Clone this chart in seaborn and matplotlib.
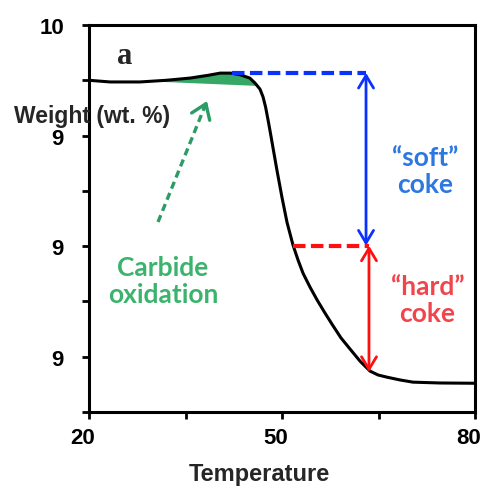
import matplotlib
matplotlib.use("Agg")
import matplotlib.pyplot as plt
import matplotlib.transforms as mtransforms
from matplotlib.patches import FancyArrowPatch
import seaborn as sns
import pandas as pd
import numpy as np

# TGA trace
temperature = [20.0, 23.3, 27.9, 32.0, 35.7, 38.5, 40.4, 42.0, 43.5, 45.0, 45.8, 46.58,
               47.05, 47.44, 47.82, 48.21, 48.6, 49.22, 50.0, 50.78, 51.71, 52.49, 53.27,
               54.35, 55.44, 56.68, 57.93, 59.17, 60.57, 62.13, 63.68, 64.92, 66.32, 68.34,
               70.36, 74.56, 80.0]
weight = [9.900, 9.897, 9.897, 9.900, 9.904, 9.909, 9.913, 9.913, 9.910, 9.904, 9.895, 9.884,
          9.870, 9.852, 9.829, 9.804, 9.778, 9.737, 9.688, 9.643, 9.602, 9.575, 9.551,
          9.526, 9.503, 9.479, 9.456, 9.434, 9.414, 9.392, 9.374, 9.367, 9.363, 9.358,
          9.354, 9.3525, 9.352]

x_ticks = [20, 35, 50, 65, 80]
x_tick_labels = ["20", "", "50", "", "80"]
y_ticks = [9.3, 9.4, 9.5, 9.6, 9.7, 9.8, 9.9, 10.0]
y_tick_labels = ["", "9", "", "9", "", "9", "", "10"]

# carbide oxidation hump (baseline end points)
carbide_start = (29.95, 9.8978)
carbide_end = (46.43, 9.8897)

# coke levels
soft_top = 9.9135
soft_bottom = 9.601
hard_bottom = 9.3724
soft_dash_x = [42.28, 63.06]
hard_dash_x = [51.71, 63.52]
green_tail = (30.73, 9.6437)
green_tip = (38.34, 9.8625)

BLUE_LINE = "#0a32ff"
BLUE_TEXT = "#2d78e0"
RED_LINE = "#ff1010"
RED_TEXT = "#f0454c"
GREEN_FILL = "#35a866"
GREEN_TEXT = "#3cb36c"
GREEN_ARROW = "#2a9c64"

sns.set_theme(style="ticks")
plt.rcParams["font.family"] = ["Liberation Sans", "DejaVu Sans"]
plt.rcParams["font.weight"] = "bold"

fig = plt.figure(figsize=(4.85, 4.89), dpi=100)
ax = fig.add_axes([0.1835, 0.1554, 0.7959, 0.7914])

df = pd.DataFrame({"Temperature": temperature, "Weight": weight})

# green hump: curve vertices between the baseline ends, closed by a straight line
t = np.array(temperature)
w = np.array(weight)
inside = (t > carbide_start[0]) & (t < carbide_end[0])
fx = [carbide_start[0]] + list(t[inside]) + [carbide_end[0]]
fy = [carbide_start[1]] + list(w[inside]) + [carbide_end[1]]
ax.fill(fx, fy, color=GREEN_FILL, lw=0, zorder=1)

sns.lineplot(data=df, x="Temperature", y="Weight", color="black", lw=2.2, ax=ax, zorder=3)

# soft coke
dash = (0, (3, 1.3))
ax.plot(soft_dash_x, [soft_top, soft_top], ls=dash, lw=3, color=BLUE_LINE, zorder=4)
ax.annotate("", xy=(soft_dash_x[1], soft_bottom), xytext=(soft_dash_x[1], soft_top),
            arrowprops=dict(arrowstyle="<->,head_length=0.45,head_width=0.27", mutation_scale=20,
                            color=BLUE_LINE, lw=2, shrinkA=0, shrinkB=0), zorder=4)
# hard coke
ax.plot(hard_dash_x, [soft_bottom, soft_bottom], ls=dash, lw=3, color=RED_LINE, zorder=4)
ax.annotate("", xy=(hard_dash_x[1], hard_bottom), xytext=(hard_dash_x[1], soft_bottom),
            arrowprops=dict(arrowstyle="<->,head_length=0.45,head_width=0.27", mutation_scale=20,
                            color=RED_LINE, lw=2, shrinkA=0, shrinkB=0), zorder=4)

# green dashed arrow
ax.plot([green_tail[0], green_tip[0]], [green_tail[1], green_tip[1]],
        ls=(0, (2.2, 1.4)), lw=2.4, color=GREEN_ARROW, zorder=4)
head_base = (green_tip[0] + 0.06 * (green_tail[0] - green_tip[0]),
             green_tip[1] + 0.06 * (green_tail[1] - green_tip[1]))
ax.add_patch(FancyArrowPatch(head_base, green_tip, arrowstyle="->,head_length=0.5,head_width=0.35",
                             mutation_scale=20, color=GREEN_ARROW, lw=2.4, shrinkA=0, shrinkB=0,
                             zorder=4))

label_font = ["Lato", "DejaVu Sans"]
ax.text(72.3, 9.736, "\u201csoft\u201d\ncoke", ha="center", va="center", color=BLUE_TEXT,
        fontsize=19, fontweight="bold", family=label_font, linespacing=1.15)
ax.text(72.6, 9.503, "\u201chard\u201d\ncoke", ha="center", va="center", color=RED_TEXT,
        fontsize=19, fontweight="bold", family=label_font, linespacing=1.15)
ax.text(31.5, 9.537, "Carbide\noxidation", ha="center", va="center", color=GREEN_TEXT,
        fontsize=19, fontweight="bold", family=label_font, linespacing=1.15)
ax.text(25.6, 9.944, "a", ha="center", va="center", fontsize=22, fontweight="bold",
        family=["Liberation Serif", "DejaVu Serif"])

ax.set_xlim(20, 80)
ax.set_ylim(9.3, 10.0)
ax.set_xticks(x_ticks)
ax.set_xticklabels(x_tick_labels)
ax.set_yticks(y_ticks)
ax.set_yticklabels(y_tick_labels)
ax.tick_params(axis="both", direction="out", length=5, width=2, labelsize=16, colors="black")
ax.tick_params(axis="y", pad=13)
ax.tick_params(axis="x", pad=6)
shift_left = mtransforms.ScaledTranslation(-6 / 100, 0, fig.dpi_scale_trans)
for lab in ax.get_xticklabels():
    lab.set_fontweight("bold")
    lab.set_transform(lab.get_transform() + shift_left)
for lab in ax.get_yticklabels():
    lab.set_fontweight("bold")
ax.set_xlabel("")
ax.set_ylabel("")
for side in ["left", "right", "top", "bottom"]:
    ax.spines[side].set_visible(True)
    ax.spines[side].set_linewidth(2.2)
    ax.spines[side].set_color("black")

fig.text(259 / 485, 1 - 475 / 489, "Temperature", ha="center", va="center",
         fontsize=17, fontweight="bold")
fig.text(92.5 / 485, 1 - 117 / 489, "Weight (wt. %)", ha="center", va="center",
         fontsize=16.5, fontweight="bold", zorder=10)

fig.savefig("out.png", dpi=100)
